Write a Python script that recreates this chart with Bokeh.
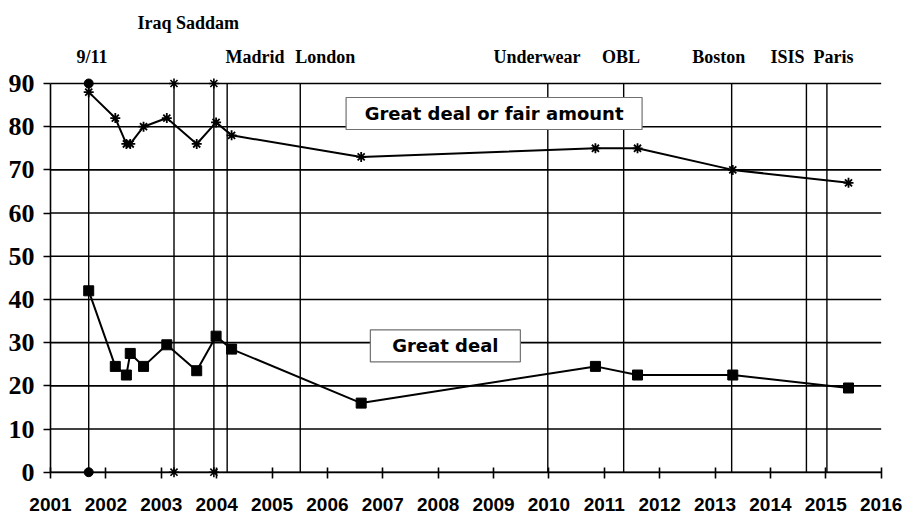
from bokeh.plotting import figure
from bokeh.models import FixedTicker, Range1d
from bokeh.embed import file_html
from bokeh.resources import INLINE
from bokeh.core.properties import value

# ---- data ----
survey_dates = [2001.69, 2002.17, 2002.37, 2002.44, 2002.68, 2003.10, 2003.64,
                2003.99, 2004.27, 2006.61, 2010.84, 2011.60, 2013.32, 2015.41]
fair_amount = [88, 82, 76, 76, 80, 82, 76, 81, 78, 73, 75, 75, 70, 67]
great_deal = [42, 24.5, 22.5, 27.5, 24.5, 29.5, 23.5, 31.5, 28.5, 16, 24.5, 22.5, 22.5, 19.5]

event_names = ["9/11", "Iraq", "Saddam", "Madrid", "London", "Underwear",
               "OBL", "Boston", "ISIS", "Paris"]
event_dates = [2001.69, 2003.23, 2003.95, 2004.19, 2005.51, 2009.98,
               2011.35, 2013.30, 2014.65, 2015.02]
event_low, event_high = 0, 90
circle_events = [2001.69]
star_events = [2003.23, 2003.95]

year_ticks = list(range(2001, 2017))
value_ticks = list(range(0, 100, 10))

header_texts = ["9/11", "Iraq Saddam", "Madrid", "London", "Underwear", "OBL",
                "Boston", "ISIS", "Paris"]
header_x = [2001.47, 2002.57, 2004.16, 2005.42, 2009.00, 2010.96, 2012.59,
            2014.00, 2014.78]
header_y = [96.25, 104.0, 96.25, 96.25, 96.25, 96.25, 96.25, 96.25, 96.25]

legend_texts = ["Great deal or fair amount", "Great deal"]
legend_x = [2009.01, 2008.13]
legend_y = [83.05, 29.27]
legend_w = [296, 150]

# ---- figure ----
p = figure(width=903, height=518, title=None,
           x_range=Range1d(2000.097, 2016.403), y_range=Range1d(-10.72, 109.22),
           output_backend="svg", toolbar_location=None,
           min_border_left=0, min_border_right=0,
           min_border_top=0, min_border_bottom=0)
p.outline_line_color = None
p.background_fill_color = "white"
p.grid.visible = False

# horizontal grid lines spanning the year axis only
p.segment(x0=[year_ticks[0]] * len(value_ticks), x1=[year_ticks[-1]] * len(value_ticks),
          y0=value_ticks, y1=value_ticks, line_color="black", line_width=1.6,
          level="underlay")

p.yaxis.ticker = FixedTicker(ticks=value_ticks)
p.yaxis.fixed_location = year_ticks[0]
p.yaxis.bounds = (event_low, event_high)
p.yaxis.axis_line_width = 1.6
p.yaxis.major_tick_line_width = 1.6
p.yaxis.major_tick_out = 7
p.yaxis.major_tick_in = 0
p.yaxis.minor_tick_line_color = None
p.yaxis.major_label_standoff = 9
p.yaxis.major_label_text_font = "Liberation Serif, Times New Roman, serif"
p.yaxis.major_label_text_font_style = "bold"
p.yaxis.major_label_text_font_size = "26px"
p.yaxis.major_label_text_color = "black"

p.xaxis.ticker = FixedTicker(ticks=year_ticks)
p.xaxis.fixed_location = event_low
p.xaxis.bounds = (year_ticks[0], year_ticks[-1])
p.xaxis.axis_line_width = 1.6
p.xaxis.major_tick_line_width = 1.6
p.xaxis.major_tick_out = 6
p.xaxis.major_tick_in = 5
p.xaxis.minor_tick_line_color = None
p.xaxis.major_label_standoff = 20
p.xaxis.major_label_text_font = "Liberation Sans"
p.xaxis.major_label_text_font_style = "bold"
p.xaxis.major_label_text_font_size = "19px"
p.xaxis.major_label_text_color = "black"

# event lines
p.segment(x0=event_dates, x1=event_dates, y0=[event_low] * len(event_dates),
          y1=[event_high] * len(event_dates), line_color="black", line_width=1.4)
p.scatter(x=circle_events * 2, y=[event_high, event_low], marker="circle",
          size=9, fill_color="black", line_color="black")
p.scatter(x=star_events * 2, y=[event_high] * 2 + [event_low] * 2, marker="asterisk",
          size=10, line_color="black", line_width=1.6)

# series
p.line(survey_dates, fair_amount, line_color="black", line_width=2)
p.scatter(survey_dates, fair_amount, marker="asterisk", size=10,
          line_color="black", line_width=1.8)
p.line(survey_dates, great_deal, line_color="black", line_width=2)
p.scatter(survey_dates, great_deal, marker="square", size=10,
          fill_color="black", line_color="black")

# legend boxes
p.rect(x=legend_x, y=legend_y, width=legend_w, height=32,
       width_units="screen", height_units="screen",
       fill_color="white", line_color="#707070", line_width=1.2)
p.text(x=legend_x, y=legend_y, text=legend_texts, text_align="center",
       text_baseline="middle", text_font=value("DejaVu Sans"),
       text_font_style="bold", text_font_size="18px", text_color="black")

# event header labels
p.text(x=header_x, y=header_y, text=header_texts, text_align="left",
       text_baseline="alphabetic", text_font=value("Liberation Serif"),
       text_font_style="bold", text_font_size="18px", text_color="black")

open("out.html", "w").write(file_html(p, INLINE))
